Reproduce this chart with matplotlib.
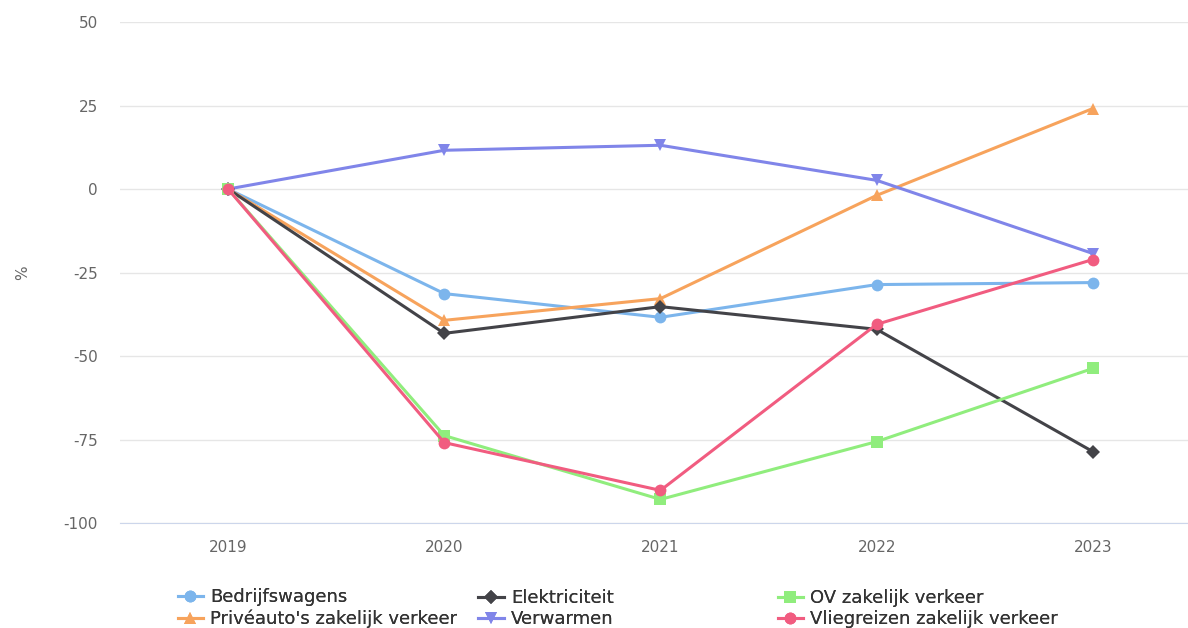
import matplotlib
matplotlib.use("Agg")
import matplotlib.pyplot as plt

years = [2019, 2020, 2021, 2022, 2023]

bedrijfswagens = [0, -31.3, -38.4, -28.6, -28.0]
elektriciteit = [0, -43.2, -35.2, -42.0, -78.6]
ov_zakelijk = [0, -73.8, -92.9, -75.6, -53.7]
priveauto = [0, -39.3, -32.8, -1.9, 24.1]
verwarmen = [0, 11.6, 13.1, 2.6, -19.3]
vliegreizen = [0, -75.9, -90.2, -40.5, -21.1]

y_ticks = [50, 25, 0, -25, -50, -75, -100]

# volgorde zoals in de legenda (rij voor rij, 3 kolommen)
series = [
    ("Bedrijfswagens", bedrijfswagens, "#7cb5ec", "o"),
    ("Elektriciteit", elektriciteit, "#434348", "D"),
    ("OV zakelijk verkeer", ov_zakelijk, "#90ed7d", "s"),
    ("Privéauto's zakelijk verkeer", priveauto, "#f7a35c", "^"),
    ("Verwarmen", verwarmen, "#8085e9", "v"),
    ("Vliegreizen zakelijk verkeer", vliegreizen, "#f15c80", "o"),
]
plot_order = [0, 3, 4, 1, 2, 5]

plt.rcParams["font.family"] = ["DejaVu Sans"]
plt.rcParams["axes.unicode_minus"] = False

fig = plt.figure(figsize=(11.88, 6.28), dpi=100)
ax = fig.add_axes([0.101, 0.167, 0.899, 0.798])

handles = {}
for i in plot_order:
    name, values, color, marker = series[i]
    ms = 7 if marker == "D" else 8.5
    if marker in ("^", "v"):
        ms = 9
    (h,) = ax.plot(years, values, color=color, lw=2.2, marker=marker,
                   markersize=ms, markeredgewidth=0, label=name, zorder=3)
    handles[i] = h

ax.set_xlim(2018.5, 2023.44)
ax.set_ylim(-100, 50)
ax.set_xticks(years)
ax.set_yticks(y_ticks)
ax.grid(axis="y", color="#e6e6e6", lw=1)
ax.set_axisbelow(True)
for side in ["top", "right", "left"]:
    ax.spines[side].set_visible(False)
ax.spines["bottom"].set_color("#ccd6eb")
ax.tick_params(axis="both", length=0, labelsize=11, colors="#666666")
ax.tick_params(axis="x", pad=12)
ax.tick_params(axis="y", pad=16)
ax.set_ylabel("%", color="#666666", fontsize=11, labelpad=24)

# drie losse legenda-kolommen, zodat de kolommen vaste posities hebben
col_x = [0.136, 0.389, 0.641]
for c in range(3):
    idx = [c, c + 3]
    leg = fig.legend([handles[i] for i in idx], [series[i][0] for i in idx],
                     loc="lower left", bbox_to_anchor=(col_x[c], -0.026),
                     frameon=False, fontsize=13, handlelength=1.4,
                     handletextpad=0.4, labelspacing=0.18)
    for t in leg.get_texts():
        t.set_color("#333333")
    fig.add_artist(leg)

fig.savefig("out.png", dpi=100)
